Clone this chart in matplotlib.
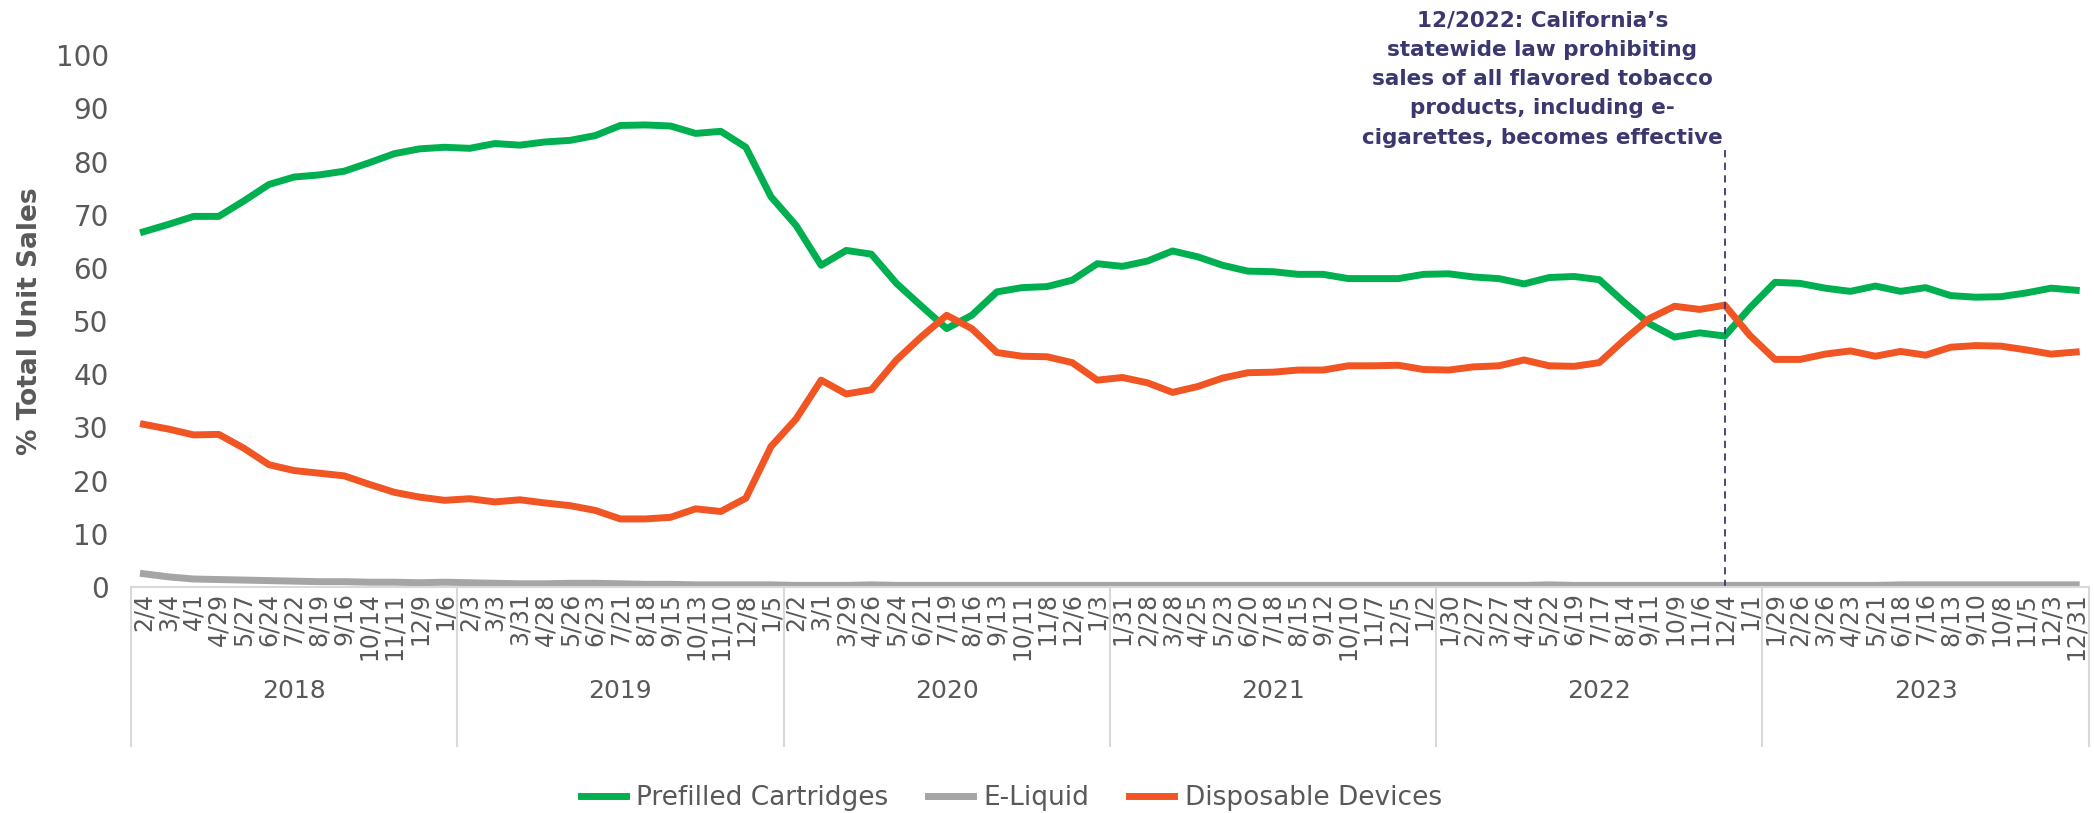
import numpy as np
import matplotlib.pyplot as plt
from matplotlib.lines import Line2D

# 4-week period end dates, grouped by year
years = ['2018', '2019', '2020', '2021', '2022', '2023']
dates_2018 = ['2/4', '3/4', '4/1', '4/29', '5/27', '6/24', '7/22', '8/19', '9/16', '10/14', '11/11', '12/9', '1/6']
dates_2019 = ['2/3', '3/3', '3/31', '4/28', '5/26', '6/23', '7/21', '8/18', '9/15', '10/13', '11/10', '12/8', '1/5']
dates_2020 = ['2/2', '3/1', '3/29', '4/26', '5/24', '6/21', '7/19', '8/16', '9/13', '10/11', '11/8', '12/6', '1/3']
dates_2021 = ['1/31', '2/28', '3/28', '4/25', '5/23', '6/20', '7/18', '8/15', '9/12', '10/10', '11/7', '12/5', '1/2']
dates_2022 = ['1/30', '2/27', '3/27', '4/24', '5/22', '6/19', '7/17', '8/14', '9/11', '10/9', '11/6', '12/4', '1/1']
dates_2023 = ['1/29', '2/26', '3/26', '4/23', '5/21', '6/18', '7/16', '8/13', '9/10', '10/8', '11/5', '12/3', '12/31']
date_groups = [dates_2018, dates_2019, dates_2020, dates_2021, dates_2022, dates_2023]
date_labels = [d for g in date_groups for d in g]

prefilled = [66.8, 68.2, 69.7, 69.7, 72.6, 75.7, 77.1, 77.5, 78.2, 79.8, 81.5, 82.4, 82.7,
             82.5, 83.4, 83.1, 83.7, 84.0, 84.9, 86.8, 86.9, 86.7, 85.3, 85.7, 82.7, 73.4,
             68.0, 60.5, 63.3, 62.6, 57.1, 52.8, 48.6, 51.1, 55.5, 56.3, 56.5, 57.7, 60.8,
             60.3, 61.3, 63.2, 62.1, 60.5, 59.4, 59.3, 58.8, 58.8, 58.0, 58.0, 58.0, 58.8,
             58.9, 58.3, 58.0, 57.0, 58.2, 58.4, 57.8, 53.5, 49.5, 47.0, 47.8, 47.2, 52.5,
             57.3, 57.1, 56.2, 55.6, 56.6, 55.6, 56.3, 54.8, 54.5, 54.6, 55.3, 56.2, 55.8]
eliquid = [2.5, 1.9, 1.5, 1.4, 1.3, 1.2, 1.1, 1.0, 1.0, 0.9, 0.9, 0.8, 0.9,
           0.8, 0.7, 0.6, 0.6, 0.7, 0.7, 0.6, 0.5, 0.5, 0.4, 0.4, 0.4, 0.4,
           0.3, 0.3, 0.3, 0.4, 0.3, 0.3, 0.3, 0.3, 0.3, 0.3, 0.3, 0.3, 0.3,
           0.3, 0.3, 0.3, 0.3, 0.3, 0.3, 0.3, 0.3, 0.3, 0.3, 0.3, 0.3, 0.3,
           0.3, 0.3, 0.3, 0.3, 0.4, 0.3, 0.3, 0.3, 0.3, 0.3, 0.3, 0.3, 0.3,
           0.3, 0.3, 0.3, 0.3, 0.3, 0.4, 0.4, 0.4, 0.4, 0.4, 0.4, 0.4, 0.4]
disposable = [30.6, 29.7, 28.6, 28.7, 26.1, 23.0, 21.9, 21.4, 20.9, 19.3, 17.8, 16.9, 16.3,
              16.6, 16.0, 16.4, 15.8, 15.3, 14.4, 12.8, 12.8, 13.1, 14.7, 14.2, 16.7, 26.4,
              31.6, 38.9, 36.3, 37.1, 42.7, 47.1, 51.1, 48.6, 44.1, 43.4, 43.3, 42.2, 38.9,
              39.4, 38.4, 36.6, 37.7, 39.3, 40.3, 40.4, 40.8, 40.8, 41.6, 41.6, 41.7, 40.9,
              40.8, 41.4, 41.6, 42.7, 41.6, 41.5, 42.2, 46.5, 50.5, 52.8, 52.2, 53.0, 47.3,
              42.8, 42.8, 43.8, 44.4, 43.4, 44.3, 43.6, 45.1, 45.4, 45.3, 44.6, 43.8, 44.2]

policy_date = '12/4'   # 12/2022 period
policy_text = ("12/2022: California\u2019s\nstatewide law prohibiting\nsales of all flavored tobacco\n"
               "products, including e-\ncigarettes, becomes effective")

plt.rcParams['font.family'] = ['DejaVu Sans']
txt_color = '#595959'
lw = 5

fig = plt.figure(figsize=(20.94, 8.13), dpi=100)
ax = fig.add_axes([0.0625, 0.278, 0.935, 0.654])

x = np.arange(len(date_labels))
ax.plot(x, prefilled, color='#00B050', lw=lw, solid_joinstyle='round', label='Prefilled Cartridges')
ax.plot(x, eliquid, color='#A5A5A5', lw=lw, solid_joinstyle='round', label='E-Liquid')
ax.plot(x, disposable, color='#F05523', lw=lw, solid_joinstyle='round', label='Disposable Devices')

ax.set_xlim(-0.5, len(date_labels) - 0.5)
ax.set_ylim(0, 100)
ax.set_yticks(range(0, 101, 10))
ax.set_xticks(x)
ax.set_xticklabels(date_labels, rotation=90, fontsize=17, color=txt_color)
ax.tick_params(axis='x', length=0, pad=4)
ax.tick_params(axis='y', length=0, pad=16, labelsize=20, labelcolor=txt_color)
for s in ['top', 'right', 'left']:
    ax.spines[s].set_visible(False)
ax.spines['bottom'].set_color('#D9D9D9')
ax.spines['bottom'].set_linewidth(1.5)
ax.set_ylabel('% Total Unit Sales', fontsize=19, fontweight='bold', color=txt_color)
ax.yaxis.set_label_coords(-0.045, 0.5)

# year groups under the date labels
trans = ax.get_xaxis_transform()
start = 0
edges = [-0.5]
for yr, g in zip(years, date_groups):
    mid = start + (len(g) - 1) / 2
    ax.text(mid, -0.195, yr, transform=trans, ha='center', va='center', fontsize=18, color=txt_color)
    start += len(g)
    edges.append(start - 0.5)
for e in edges:
    ax.plot([e, e], [0, -0.30], transform=trans, color='#D9D9D9', lw=1.5, clip_on=False)

# policy marker
px = date_labels.index(policy_date, 52)
ax.plot([px, px], [0, 83], color='#3B3870', lw=1.3, ls=(0, (4, 3)))
fig.text(0.7365, 0.987, policy_text, ha='center', va='top', fontsize=15.5, fontweight='bold',
         color='#3B3870', linespacing=1.58)

handles = [Line2D([], [], color=l.get_color(), lw=lw) for l in ax.get_lines()[:3]]
fig.legend(handles, ['Prefilled Cartridges', 'E-Liquid', 'Disposable Devices'],
           loc='center', bbox_to_anchor=(0.483, 0.018), ncol=3, frameon=False,
           fontsize=19, labelcolor=txt_color, handlelength=1.7, columnspacing=1.5, handletextpad=0.4)

fig.savefig('out.png', dpi=100)
